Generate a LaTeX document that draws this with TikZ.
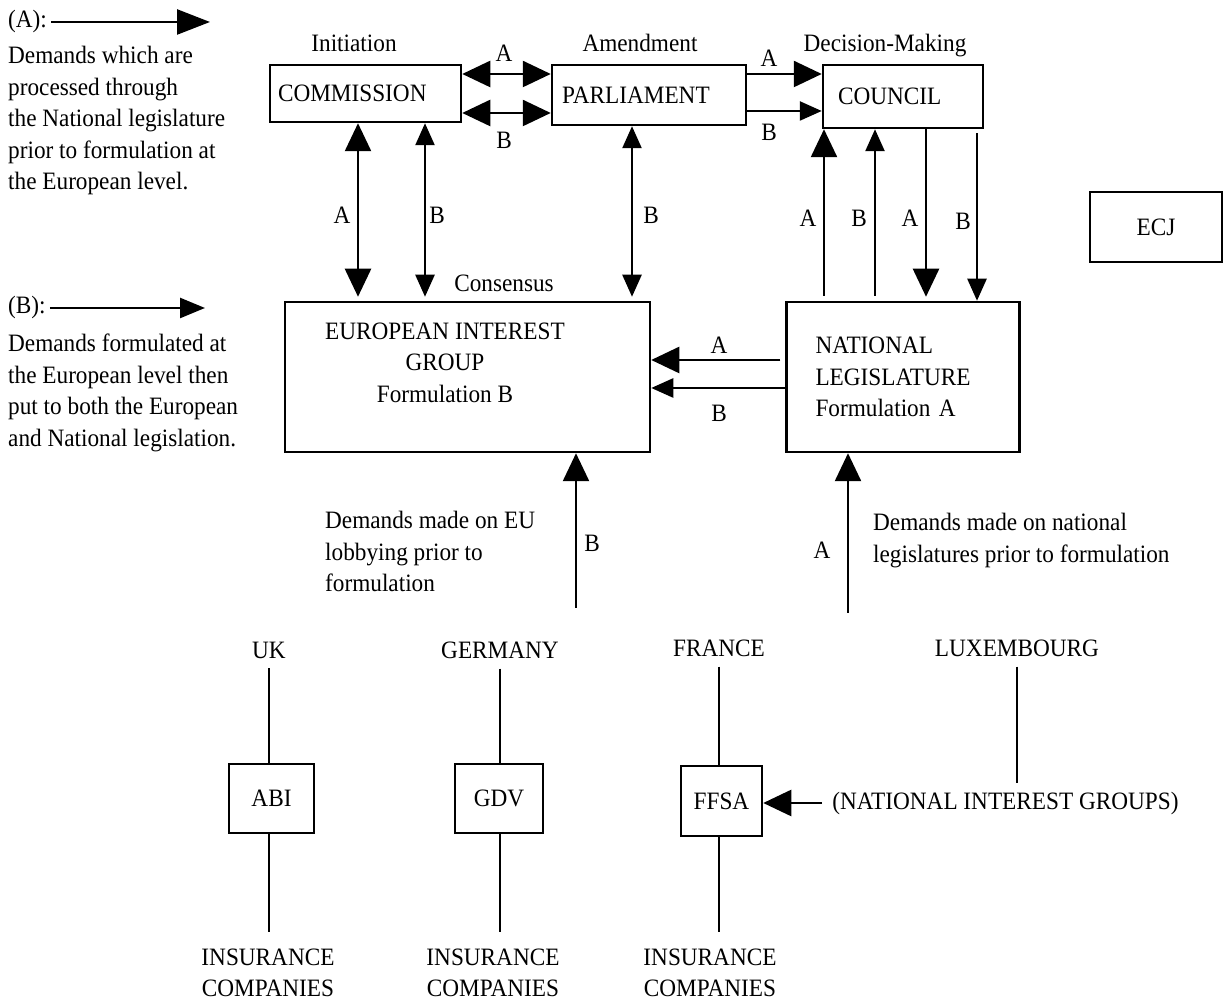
\documentclass[tikz,border=0pt]{standalone}
\usepackage{fontspec}
\setmainfont{Liberation Serif}[FakeStretch=0.93]
\usetikzlibrary{arrows.meta,positioning}

\begin{document}
\begin{tikzpicture}[x=1pt,y=1pt,
  every node/.style={font=\fontsize{25}{31.5}\selectfont, inner sep=2pt},
  box/.style={draw, line width=2.5pt, inner ysep=0pt},
  wire/.style={line width=2.5pt},
  dblA/.style={wire, {Triangle[length=28pt,width=26pt]}-{Triangle[length=28pt,width=26pt]}},
  dblB/.style={wire, {Triangle[length=22pt,width=19pt]}-{Triangle[length=22pt,width=19pt]}},
  oneA/.style={wire, -{Triangle[length=28pt,width=26pt]}},
  oneB/.style={wire, -{Triangle[length=22pt,width=19pt]}},
  country/.style={inner sep=10pt},
  ins/.style={align=center, inner xsep=2pt, inner ysep=17pt},
  blurb/.style={anchor=north west, inner sep=0pt, align=left}]
%
\useasboundingbox (0,0) rectangle (1231,1000);
%
% legend
\node[anchor=west, inner sep=4pt] (legA) at (4,978) {(A):};
\coordinate (legAend) at (210,979);
\draw[wire, -{Triangle[length=33pt,width=25pt]}] (legA.east) -- (legA.east -| legAend);
\node[blurb] (legAtext) at (8,954) {Demands which are\\processed through\\the National legislature\\prior to formulation at\\the European level.};
\node[anchor=west, inner sep=4pt] (legB) at (4,692) {(B):};
\coordinate (legBend) at (205,692);
\draw[wire, -{Triangle[length=25pt,width=20pt]}] (legB.east) -- (legB.east -| legBend);
\node[blurb] (legBtext) at (8,666) {Demands formulated at\\the European level then\\put to both the European\\and National legislation.};
%
% institutions
\node[box, minimum width=191pt, minimum height=57pt, inner xsep=8pt, text width=175pt, align=left] (commission) at (365.5,906.5) {COMMISSION};
\node[box, minimum width=194pt, minimum height=60pt, inner xsep=10pt, text width=174pt, align=left] (parliament) at (649,905) {PARLIAMENT};
\node[box, minimum width=160pt, minimum height=63pt, inner xsep=15pt, text width=130pt, align=left] (council) at (903,903.5) {COUNCIL};
\node[box, minimum width=132pt, minimum height=70pt] (ecj) at (1156,773) {ECJ};
\node[box, minimum width=365pt, minimum height=150pt] (eig) at (467.5,623) {};
\node[align=center] (eigtext) at (445,637.5) {EUROPEAN INTEREST\\GROUP\\Formulation B};
\node[box, minimum width=233pt, minimum height=150pt, inner xsep=29pt, text width=175pt, align=left] (nl) at (903,623) {NATIONAL\\LEGISLATURE\\Formulation A};
%
\node (initiation) at (354,957) {Initiation};
\node (amendment) at (640,957) {Amendment};
\node (decision) at (885,954) {Decision-Making};
\node (consensus) at (504,717) {Consensus};
%
% top row
\draw[dblA] ([yshift=19.5pt]commission.east) -- ([yshift=21pt]parliament.west);
\draw[dblA] ([yshift=-19.5pt]commission.east) -- ([yshift=-18pt]parliament.west);
\draw[oneA] ([yshift=21pt]parliament.east) -- ([yshift=22.5pt]council.west);
\draw[oneB] ([yshift=-16pt]parliament.east) -- ([yshift=-14.5pt]council.west);
\node (cpA) at (504,947) {A};
\node (cpB) at (504,860) {B};
\node (pcA) at (769,942) {A};
\node (pcB) at (769,868) {B};
%
% down to the interest group
\draw[dblA, shorten >=4pt] ([xshift=-7.5pt]commission.south) -- ([xshift=-109.5pt]eig.north);
\draw[dblB, shorten >=4pt] ([xshift=59.5pt]commission.south) -- ([xshift=-42.5pt]eig.north);
\draw[dblB, shorten >=4pt] ([xshift=-17pt]parliament.south) -- ([xshift=164.5pt]eig.north);
\node (ceA) at (342,785) {A};
\node (ceB) at (437,785) {B};
\node (peB) at (651,785) {B};
%
% council and national legislature
\draw[oneA, shorten <=5pt] ([xshift=-79pt]nl.north) -- ([xshift=-79pt]council.south);
\draw[oneB, shorten <=5pt] ([xshift=-28pt]nl.north) -- ([xshift=-28pt]council.south);
\draw[oneA, shorten >=4pt] ([xshift=23pt]council.south) -- ([xshift=23pt]nl.north);
\draw[oneB, shorten <=4pt] ([xshift=74pt]council.south) -- ([xshift=74pt]nl.north);
\node (ncA) at (808,782) {A};
\node (ncB) at (859,782) {B};
\node (cnA) at (910,782) {A};
\node (cnB) at (963,779) {B};
%
\draw[oneA, shorten <=5pt] ([yshift=17pt]nl.west) -- ([yshift=17pt]eig.east);
\draw[oneB] ([yshift=-11pt]nl.west) -- ([yshift=-11pt]eig.east);
\node (neA) at (719,655) {A};
\node (neB) at (719,587) {B};
%
% demands from below
\coordinate (euin) at (576,392);
\coordinate (natin) at (848,387);
\draw[oneA] (euin) -- (euin |- eig.south);
\draw[oneA] (natin) -- (natin |- nl.south);
\node (euB) at (592,457) {B};
\node (natA) at (822,450) {A};
\node[blurb] (eudemand) at (325,489) {Demands made on EU\\lobbying prior to\\formulation};
\node[blurb] (natdemand) at (873,487) {Demands made on national\\legislatures prior to formulation};
%
% member states
\node[country] (uk) at (269,350) {UK};
\node[country] (germany) at (500,350) {GERMANY};
\node[country] (france) at (719,352) {FRANCE};
\node[country] (lux) at (1017,352) {LUXEMBOURG};
%
\node[box, minimum width=85pt, minimum height=69pt] (abi) at (271.5,201.5) {ABI};
\node[box, minimum width=88pt, minimum height=69pt] (gdv) at (499,201.5) {GDV};
\node[box, minimum width=81pt, minimum height=70pt] (ffsa) at (721.5,199) {FFSA};
\node[inner xsep=10pt, inner ysep=8pt] (nig) at (1005.5,197) {(NATIONAL INTEREST GROUPS)};
%
\node[ins] (insuk) at (268,27) {INSURANCE\\COMPANIES};
\node[ins] (insde) at (493,27) {INSURANCE\\COMPANIES};
\node[ins] (insfr) at (710,27) {INSURANCE\\COMPANIES};
%
\draw[wire] (uk) -- (uk |- abi.north);
\draw[wire] (uk |- abi.south) -- (uk |- insuk.north);
\draw[wire] (germany) -- (germany |- gdv.north);
\draw[wire] (germany |- gdv.south) -- (germany |- insde.north);
\draw[wire] (france) -- (france |- ffsa.north);
\draw[wire] (france |- ffsa.south) -- (france |- insfr.north);
\draw[wire] (lux) -- (lux |- nig.north);
\draw[oneA] (nig.west) -- (nig.west -| ffsa.east);
%
\end{tikzpicture}
\end{document}
